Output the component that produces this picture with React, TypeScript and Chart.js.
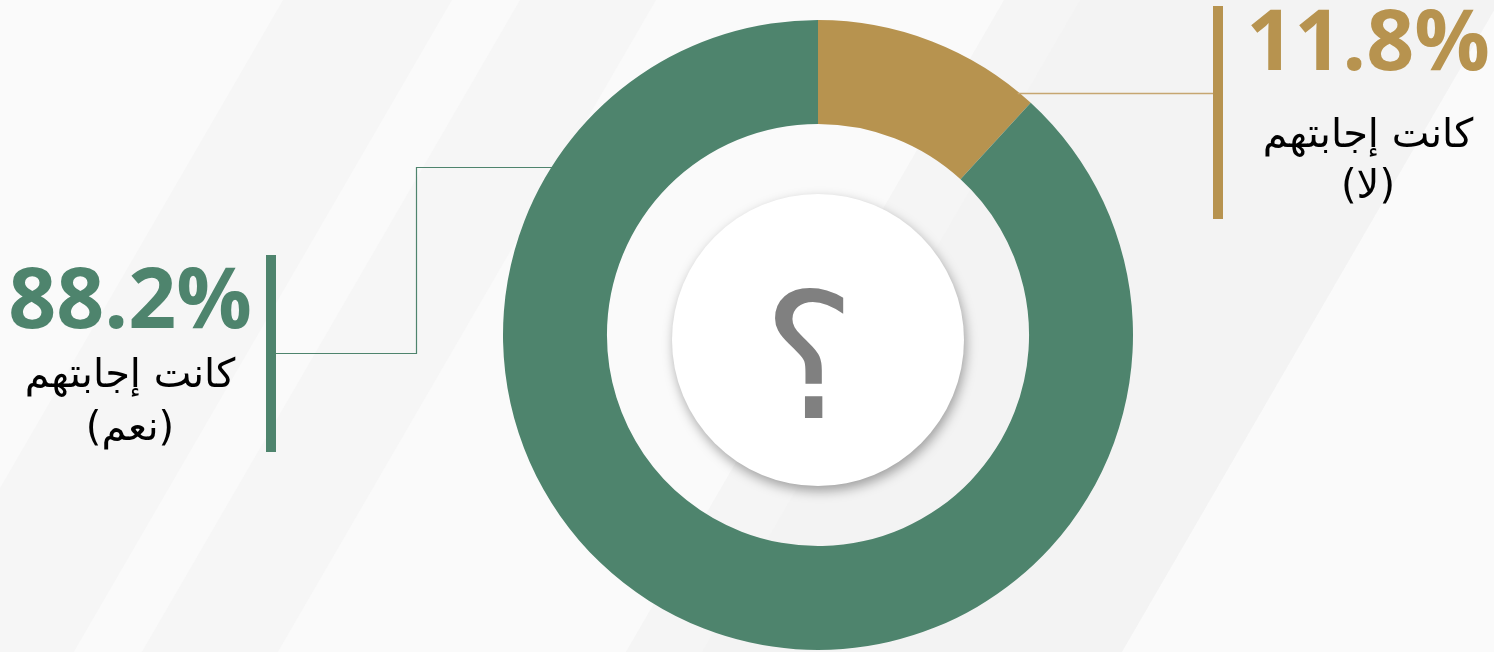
import React, { useEffect, useRef } from "react";
import { Chart, registerables } from "chart.js";

Chart.register(...registerables);

const categories = ["كانت إجابتهم (لا)", "كانت إجابتهم (نعم)"];
const labelLine1 = ["كانت إجابتهم", "كانت إجابتهم"];
const labelLine2 = ["(لا)", "(نعم)"];
const values = [11.8, 88.2];
const colors = ["#b7934f", "#4e846d"];
const centerMark = "؟";

const W = 1494;
const H = 652;

const decorPlugin = {
  id: "decor",
  beforeDraw(chart: any) {
    const ctx = chart.ctx as CanvasRenderingContext2D;
    ctx.save();
    ctx.fillStyle = "#fafafa";
    ctx.fillRect(0, 0, W, H);
    const k = 0.58;
    const bands: [number, number, string][] = [
      [283, 452, "#f6f6f6"],
      [520, 656, "#f6f6f6"],
      [1004, 1500, "#f5f5f5"],
      [1080, 1500, "#f3f3f3"],
    ];
    for (const [a, b, c] of bands) {
      ctx.fillStyle = c;
      ctx.beginPath();
      ctx.moveTo(a, 0);
      ctx.lineTo(b, 0);
      ctx.lineTo(b - k * H, H);
      ctx.lineTo(a - k * H, H);
      ctx.closePath();
      ctx.fill();
    }
    ctx.restore();
  },
  afterDraw(chart: any) {
    const ctx = chart.ctx as CanvasRenderingContext2D;
    const meta = chart.getDatasetMeta(0);
    const arc0 = meta.data[0];
    const cx = arc0.x;
    const cy = arc0.y;
    const R = arc0.outerRadius;

    // center white disc with shadow
    ctx.save();
    ctx.shadowColor = "rgba(0,0,0,0.35)";
    ctx.shadowBlur = 12;
    ctx.shadowOffsetX = 2;
    ctx.shadowOffsetY = 5;
    ctx.fillStyle = "#ffffff";
    ctx.beginPath();
    ctx.arc(cx, cy + 5, 146, 0, Math.PI * 2);
    ctx.fill();
    ctx.restore();

    ctx.save();
    ctx.fillStyle = "#808080";
    ctx.font = "175px 'DejaVu Sans'";
    ctx.textAlign = "center";
    ctx.textBaseline = "alphabetic";
    ctx.fillText(centerMark, cx - 9, cy + 83);
    ctx.restore();

    // leader lines
    ctx.save();
    const gy = 93;
    const gx = cx + Math.sqrt(R * R - (cy - gy) * (cy - gy));
    ctx.strokeStyle = "#c6a671";
    ctx.lineWidth = 1.5;
    ctx.beginPath();
    ctx.moveTo(gx - 2, gy + 0.5);
    ctx.lineTo(1214, gy + 0.5);
    ctx.stroke();
    ctx.fillStyle = colors[0];
    ctx.fillRect(1213, 6, 10, 213);

    const ly = 167;
    const lx = cx - Math.sqrt(R * R - (cy - ly) * (cy - ly));
    ctx.strokeStyle = colors[1];
    ctx.lineWidth = 1.2;
    ctx.beginPath();
    ctx.moveTo(lx + 2, ly + 0.5);
    ctx.lineTo(416.5, ly + 0.5);
    ctx.lineTo(416.5, 353.5);
    ctx.lineTo(276, 353.5);
    ctx.stroke();
    ctx.fillStyle = colors[1];
    ctx.fillRect(266, 255, 10, 197);
    ctx.restore();

    const drawLabel = (i: number, x: number, numY: number, l1Y: number, l2Y: number) => {
      ctx.save();
      ctx.textAlign = "center";
      ctx.textBaseline = "alphabetic";
      ctx.fillStyle = colors[i];
      ctx.font = "bold 84px 'Open Sans'";
      ctx.fillText(values[i].toFixed(1) + "%", x, numY);
      ctx.fillStyle = "#000000";
      ctx.font = "40px 'DejaVu Sans'";
      (ctx as any).direction = "rtl";
      ctx.fillText(labelLine1[i], x, l1Y);
      ctx.fillText(labelLine2[i], x, l2Y);
      ctx.restore();
    };
    drawLabel(0, 1368, 70, 147, 198);
    drawLabel(1, 130, 328, 387, 440);
  },
};

export default function App() {
  const ref = useRef<HTMLCanvasElement | null>(null);
  useEffect(() => {
    if (!ref.current) return;
    const chart = new Chart(ref.current, {
      type: "doughnut",
      data: {
        labels: categories,
        datasets: [
          {
            data: values,
            backgroundColor: colors,
            borderWidth: 0,
            hoverOffset: 0,
          },
        ],
      },
      options: {
        responsive: false,
        animation: false,
        cutout: "67%",
        layout: { padding: { left: 503, right: 361, top: 20, bottom: 2 } },
        plugins: {
          legend: { display: false },
          tooltip: { enabled: false },
        },
        events: [],
      },
      plugins: [decorPlugin],
    });
    const fonts = (document as any).fonts;
    if (fonts && fonts.load) {
      Promise.all([
        fonts.load("bold 84px 'Open Sans'"),
        fonts.load("40px 'DejaVu Sans'"),
      ])
        .then(() => chart.draw())
        .catch(() => {});
    }
    return () => chart.destroy();
  }, []);
  return (
    <div style={{ position: "fixed", left: 0, top: 0, width: W, height: H }}>
      <canvas ref={ref} width={W} height={H} style={{ display: "block" }} />
    </div>
  );
}
